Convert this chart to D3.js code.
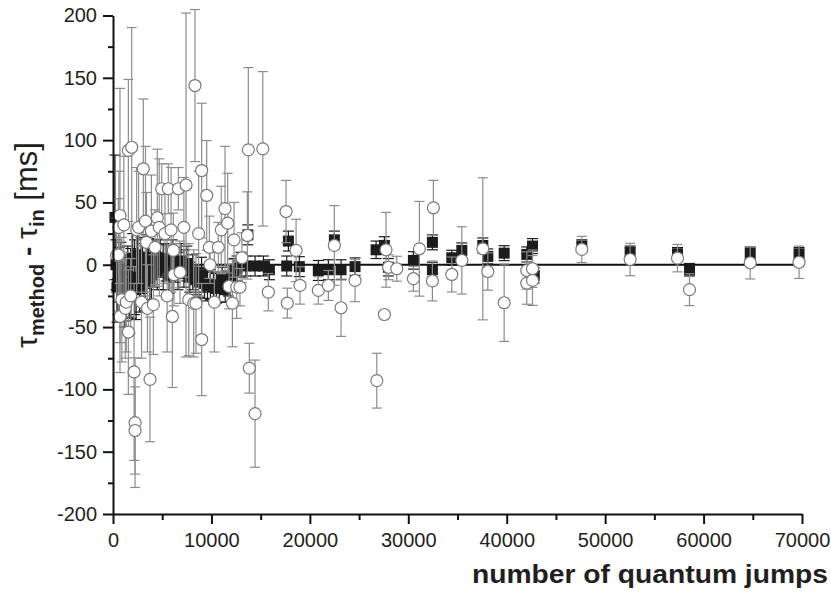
<!DOCTYPE html>
<html>
<head>
<meta charset="utf-8">
<script src="https://cdn.jsdelivr.net/npm/d3@7"></script>
<style>
  body { margin: 0; background: #fff; }
  svg { display: block; font-family: "Liberation Sans", Arial, sans-serif; }
</style>
</head>
<body>
<svg id="chart" width="831" height="595"></svg>
<script>
// black squares (method 1): x = number of jumps, y = tau_method - tau_in, err = +/- error
const squareX = [200, 300, 400, 500, 650, 800, 1000, 1150, 1300, 1500, 1650, 1800, 2000, 2200, 2350, 2500,
  2700, 2850, 3000, 3150, 3300, 3450, 3600, 3750, 3900, 4050, 4200, 4500, 4800, 5100, 5400, 5700, 6000,
  6300, 6600, 6900, 7200, 7500, 7800, 8100, 8400, 8700, 9000,
  9300, 9600, 9900, 10200, 10500, 10800, 11100, 11400, 11700, 12000, 12300, 12600, 13000, 13500, 13700,
  14430, 15280, 15890, 17650, 17820, 18930, 20860, 21880, 22490, 23170, 24590, 26730, 27570, 27980,
  30520, 32450, 32450, 34420, 35440, 37570, 38080, 39740, 42040, 42620, 42800, 47630, 52540, 57350,
  58570, 64740, 69700];
const squareY = [38, 0, -18, -15, -8, -12, -18, -22, -20, -5, -17, -15, 5, -10, -20, 8,
  -18, 2, -3, -15, -12, 6, 3, -14, -8, 4, 0, -5, 5, -2, 2, -8, 5,
  0, -5, 3, -3, 1, -10, -6, -12, -14, -8,
  -15, -17, -16, -18, -19, -18, -12, -20, -15, -10, -5, -3, 0, -1, 24,
  -1, -1, -4, -1, 19, -1.5, -4.6, -4, 20, -4, -1.5, 12, 15.5, -2,
  3.5, 18, -4, 5.6, 11.5, 15.5, 6.7, 9.3, 8.3, 15, -8.6, 15, 10, 8.8,
  -4, 9.3, 8.8];
const squareErr = [50, 20, 28, 25, 22, 30, 25, 28, 25, 20, 25, 28, 20, 30, 24, 18,
  20, 20, 20, 22, 22, 18, 18, 20, 20, 16, 18, 15, 15, 18, 15, 15, 15,
  14, 15, 14, 15, 14, 12, 14, 12, 12, 14,
  12, 12, 12, 12, 12, 12, 10, 10, 10, 10, 10, 10, 10, 8, 8,
  8, 8, 8, 8, 8, 8, 8, 8, 7, 8, 7, 7, 7, 7,
  7, 6, 6, 6, 6, 6, 6, 6, 6, 6, 6, 5, 5, 5,
  5, 5, 5];

// open circles (method 2)
const circleX = [370, 540, 600, 710, 710, 900, 1100, 1250, 1350, 1560, 1560, 1800, 1900, 2140, 2240, 2240,
  2400, 2600, 2900, 3080, 3300, 3400, 3500, 3760, 3900, 4100, 4270, 4500, 4700, 4950, 5280, 5500, 5620,
  5900, 6030, 6130, 6200, 6640, 6810, 7200, 7420, 7700, 8200, 8330, 8430, 8700, 9010, 9010, 9520, 9790,
  9860, 10300, 10700, 11000, 11380, 11650, 11790, 12130, 12300, 12570,
  12900, 13100, 13650, 13750, 13850, 14430, 15220, 15780, 17580, 17710, 18600, 19000, 20860, 21880,
  22490, 23170, 24590, 26800, 27570, 27740, 28000, 28830, 30520, 31130, 32450, 32550, 34420, 35440,
  37570, 38080, 39740, 42040, 42040, 42620, 42620, 47630, 52540, 57350, 58570, 64740, 69700];
const circleY = [7.5, 8, 30, 39.5, -41.5, -28, 32, -35, -30, 91.7, -54, -25, 94.3, -86, -126.7, -133,
  28, 30, -30, 77, 35, 18, -35, -92, 27, -32, 14, 37.7, 30, 61, 25, -25, 61,
  28, -41.5, 11.5, -8, 61, -6, 30, 64, -28, -31, 143.8, -31, 25, 75.6, -60, 55.6, 14,
  0, -30, 14, 28, 45, 33.4, -17.4, -30.8, 20, -18,
  -18, 5.6, 23.5, 92.2, -83, -119.5, 93, -22, 42.7, -30.8, 11.5, -16.6, -20.6, -16.6,
  15.5, -34.5, -12.6, -93, -39.9, 12, -2, -3.2, -11.2, 12.8, -13, 45.7, -7.8, 3.5,
  12.8, -5.4, -30.5, -4.6, -14.7, -3.2, -12.6, 12.3, 4.2, 5.3, -20, 1.6, 2];
const circleErr = [30, 45, 45, 102, 45, 50, 55, 40, 40, 57, 50, 30, 96, 71, 52, 35,
  50, 45, 45, 56, 60, 40, 35, 50, 45, 40, 30, 55, 55, 20, 40, 45, 20,
  50, 57, 30, 25, 17, 25, 40, 138, 45, 43, 61, 40, 50, 54, 45, 44, 25,
  15, 40, 20, 35, 50, 40, 18, 35, 30, 25,
  15, 20, 35, 66, 20, 43, 62, 15, 25, 12, 25, 15, 11, 12,
  32, 23, 17, 22, 0, 30, 10, 10, 10, 38, 16, 22, 14, 27,
  57, 15, 31, 15, 17, 15, 20, 10.5, 13, 11, 12.8, 13, 13];

const xTicks = [0, 10000, 20000, 30000, 40000, 50000, 60000, 70000];
const xMinor = [5000, 15000, 25000, 35000, 45000, 55000, 65000];
const yTicks = [-200, -150, -100, -50, 0, 50, 100, 150, 200];
const yMinor = [-175, -125, -75, -25, 25, 75, 125, 175];

const squares = squareX.map((x, i) => ({ x: x, y: squareY[i], e: squareErr[i] }));
const circles = circleX.map((x, i) => ({ x: x, y: circleY[i], e: circleErr[i] }));

const svg = d3.select("#chart");
const x = d3.scaleLinear().domain([0, 70000]).range([113, 802]);
const y = d3.scaleLinear().domain([-200, 200]).range([514, 15.5]);

const greyColor = "#8c8c8c";
const sqColor = "#1c1c1c";
const textColor = "#231f20";

// squares series first, circles series on top (as in the original plot)
let g = {
  zero: svg.append("g"),
  squareErr: svg.append("g"),
  squares: svg.append("g"),
  circleErr: svg.append("g"),
  circles: svg.append("g"),
  axes: svg.append("g"),
};

// zero line
g.zero.append("line")
  .attr("x1", x(0)).attr("x2", x(70000))
  .attr("y1", y(0)).attr("y2", y(0))
  .attr("stroke", "#111").attr("stroke-width", 2);

function errorBars(sel, data, color, cap) {
  const bars = sel.selectAll("g").data(data.filter((d) => d.e > 0)).enter().append("g")
    .attr("stroke", color).attr("stroke-width", 1.2);
  bars.append("line")
    .attr("x1", (d) => x(d.x)).attr("x2", (d) => x(d.x))
    .attr("y1", (d) => y(d.y + d.e)).attr("y2", (d) => y(d.y - d.e));
  bars.append("line")
    .attr("x1", (d) => x(d.x) - cap).attr("x2", (d) => x(d.x) + cap)
    .attr("y1", (d) => y(d.y + d.e)).attr("y2", (d) => y(d.y + d.e));
  bars.append("line")
    .attr("x1", (d) => x(d.x) - cap).attr("x2", (d) => x(d.x) + cap)
    .attr("y1", (d) => y(d.y - d.e)).attr("y2", (d) => y(d.y - d.e));
}

errorBars(g.squareErr, squares, sqColor, 5.5);
errorBars(g.circleErr, circles, greyColor, 5);

const s = 11;
g.squares.selectAll("rect").data(squares).enter().append("rect")
  .attr("x", (d) => x(d.x) - s / 2)
  .attr("y", (d) => y(d.y) - s / 2)
  .attr("width", s).attr("height", s)
  .attr("fill", sqColor);

g.circles.selectAll("circle").data(circles).enter().append("circle")
  .attr("cx", (d) => x(d.x))
  .attr("cy", (d) => y(d.y))
  .attr("r", 6)
  .attr("fill", "#fff")
  .attr("stroke", "#7a7a7a")
  .attr("stroke-width", 1.2);

// axes
const fmt = (d) => String(d);
const xAxis = g.axes.append("g").attr("transform", `translate(0,${y(-200)})`)
  .call(d3.axisBottom(x).tickValues(xTicks).tickSize(10).tickSizeOuter(0).tickFormat(fmt));
g.axes.append("g").attr("transform", `translate(0,${y(-200)})`)
  .call(d3.axisBottom(x).tickValues(xMinor).tickSize(6).tickFormat(""))
  .select(".domain").remove();
const yAxis = g.axes.append("g").attr("transform", `translate(${x(0)},0)`)
  .call(d3.axisLeft(y).tickValues(yTicks).tickSize(10).tickSizeOuter(0).tickFormat(fmt));
g.axes.append("g").attr("transform", `translate(${x(0)},0)`)
  .call(d3.axisLeft(y).tickValues(yMinor).tickSize(5).tickFormat(""))
  .select(".domain").remove();

g.axes.selectAll("g").attr("font-family", null);
g.axes.selectAll(".domain").attr("stroke", "#111").attr("stroke-width", 2);
g.axes.selectAll(".tick line").attr("stroke", "#111").attr("stroke-width", 2);
g.axes.selectAll(".tick text")
  .attr("font-size", 20).attr("fill", textColor)
  .attr("font-family", "Liberation Sans, Arial, sans-serif");
xAxis.selectAll(".tick text").attr("dy", "1.0em");
yAxis.selectAll(".tick text").attr("x", -16);

// axis titles
svg.append("text")
  .attr("x", 828).attr("y", 583)
  .attr("text-anchor", "end")
  .attr("font-size", 26).attr("font-weight", "bold").attr("fill", textColor)
  .attr("textLength", 356).attr("lengthAdjust", "spacingAndGlyphs")
  .text("number of quantum jumps");

const yt = svg.append("text")
  .attr("transform", "translate(37,245) rotate(-90)")
  .attr("text-anchor", "middle")
  .attr("fill", textColor);
yt.append("tspan").attr("font-size", 30).text("τ");
yt.append("tspan").attr("font-size", 20).attr("font-weight", "bold").attr("dy", 7).text("method");
yt.append("tspan").attr("font-size", 28).attr("font-weight", "bold").attr("dy", -7).text(" - ");
yt.append("tspan").attr("font-size", 30).text("τ");
yt.append("tspan").attr("font-size", 20).attr("font-weight", "bold").attr("dy", 7).text("in");
yt.append("tspan").attr("font-size", 31).attr("dy", -7).text(" [ms]");
</script>
</body>
</html>
